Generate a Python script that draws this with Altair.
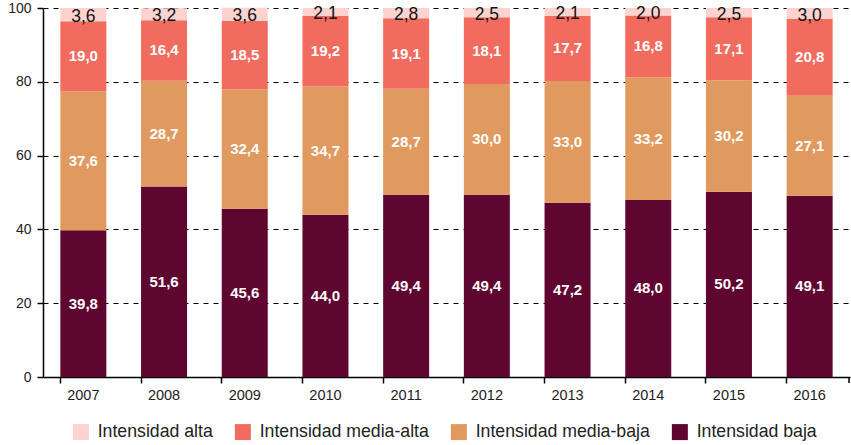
import altair as alt
import pandas as pd

years = ["2007", "2008", "2009", "2010", "2011", "2012", "2013", "2014", "2015", "2016"]
baja = [39.8, 51.6, 45.6, 44.0, 49.4, 49.4, 47.2, 48.0, 50.2, 49.1]
media_baja = [37.6, 28.7, 32.4, 34.7, 28.7, 30.0, 33.0, 33.2, 30.2, 27.1]
media_alta = [19.0, 16.4, 18.5, 19.2, 19.1, 18.1, 17.7, 16.8, 17.1, 20.8]
alta = [3.6, 3.2, 3.6, 2.1, 2.8, 2.5, 2.1, 2.0, 2.5, 3.0]

cats = ["Intensidad baja", "Intensidad media-baja", "Intensidad media-alta", "Intensidad alta"]
series = [baja, media_baja, media_alta, alta]

rows = []
for i, y in enumerate(years):
    base = 0.0
    for k, (c, s) in enumerate(zip(cats, series)):
        v = s[i]
        rows.append({
            "year": y, "cat": c, "value": v, "ord": k,
            "y0": base, "y1": base + v, "mid": base + v / 2,
            "label": f"{v:.1f}".replace(".", ","),
            "top": k == 3,
        })
        base += v
df = pd.DataFrame(rows)

legend_order = ["Intensidad alta", "Intensidad media-alta", "Intensidad media-baja", "Intensidad baja"]
legend_colors = ["#FDD3CF", "#F26B5F", "#E0995E", "#5F0630"]

FONT = "Liberation Sans"

x = alt.X("year:N", title=None,
          scale=alt.Scale(paddingInner=0.43, paddingOuter=0.215),
          axis=alt.Axis(labelAngle=0, bandPosition=0, labelFont=FONT,
                        labelFontSize=14.5, labelColor="#222", labelPadding=5,
                        domainColor="black", domainWidth=1.5, tickColor="black",
                        tickWidth=1.5, tickSize=6, grid=False))

bars = alt.Chart(df).mark_bar().encode(
    x=x,
    y=alt.Y("y0:Q", title=None, scale=alt.Scale(domain=[0, 100], nice=False),
            axis=alt.Axis(values=[0, 20, 40, 60, 80, 100], grid=True, gridDash=[5, 5],
                          gridColor="black", gridWidth=1, labelFont=FONT,
                          labelFontSize=14, labelColor="#222", labelPadding=6,
                          domainColor="black", domainWidth=1.5, tickColor="black",
                          tickWidth=1.5, tickSize=6)),
    y2="y1:Q",
    color=alt.Color("cat:N", scale=alt.Scale(domain=legend_order, range=legend_colors),
                    legend=alt.Legend(title=None, orient="none", legendX=29, legendY=415,
                                      direction="horizontal",
                                      symbolType="square", symbolSize=256, symbolStrokeWidth=0,
                                      labelFont=FONT, labelFontSize=17.7, labelOffset=8,
                                      labelLimit=0,
                                      labelColor="#222", columnPadding=21)),
)

inner = alt.Chart(df[~df["top"]]).mark_text(
    font=FONT, fontSize=15, fontWeight="bold", color="white", baseline="middle"
).encode(x=alt.X("year:N"), y=alt.Y("mid:Q"), text="label:N")

topt = alt.Chart(df[df["top"]]).mark_text(
    font=FONT, fontSize=17.5, color="#111", baseline="middle", dy=2
).encode(x=alt.X("year:N"), y=alt.Y("mid:Q"), text="label:N")

end_tick = alt.Chart(df.head(1)).mark_rule(color="black", strokeWidth=1.5).encode(
    x=alt.value(806), y=alt.value(369), y2=alt.value(375))

chart = alt.layer(bars, inner, topt, end_tick).properties(
    width=807, height=369,
    autosize=alt.AutoSizeParams(type="none"),
    padding={"left": 43, "top": 8, "right": 1, "bottom": 68},
).configure_view(stroke=None)

chart.save("out.html", embed_options={"renderer": "svg", "actions": False})
